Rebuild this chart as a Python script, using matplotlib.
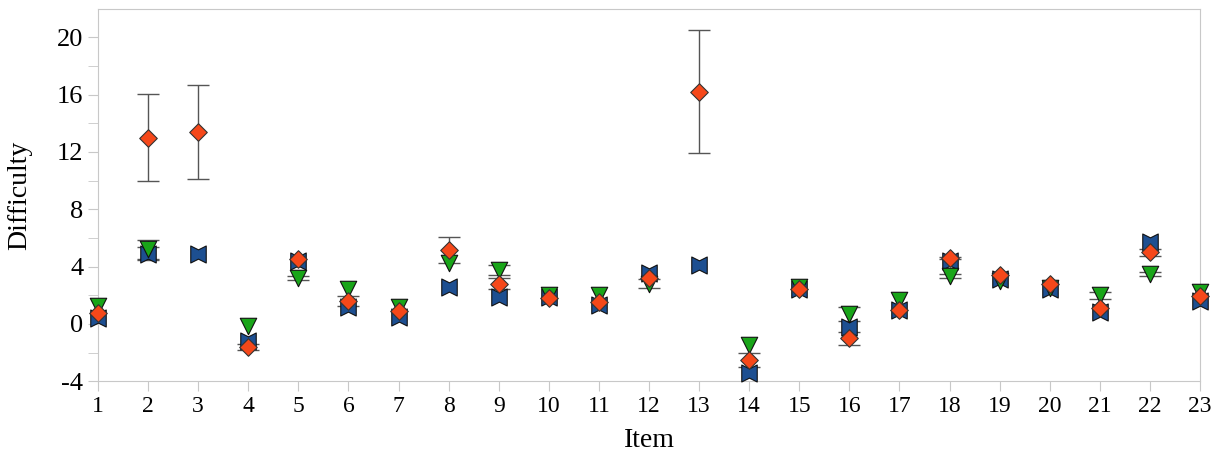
import numpy as np
import matplotlib
matplotlib.use('Agg')
import matplotlib.pyplot as plt
from matplotlib.path import Path

plt.rcParams['font.family'] = ['Liberation Serif', 'DejaVu Serif']
plt.rcParams['axes.unicode_minus'] = False

# item numbers and difficulty estimates for the three groups
items = list(range(1, 24))
blue_vals = [0.4, 4.9, 4.9, -1.2, 4.4, 1.2, 0.5, 2.6, 1.9, 1.9, 1.3, 3.55,
             4.1, -3.4, 2.45, -0.2, 1.0, 4.4, 3.1, 2.45, 0.8, 5.7, 1.6]
red_vals = [0.75, 13.0, 13.4, -1.6, 4.5, 1.6, 0.9, 5.15, 2.8, 1.8, 1.5, 3.2,
            16.2, -2.5, 2.45, -1.0, 1.0, 4.6, 3.4, 2.8, 1.1, 5.0, 1.95]
green_vals = [1.25, 5.2, None, -0.15, 3.2, 2.45, 1.2, 4.25, 3.75, 2.0, 2.0, 2.8,
              None, -1.5, 2.6, 0.7, 1.65, 3.35, 3.0, 2.5, 2.0, 3.5, 2.2]
red_err = [0, 3.05, 3.3, 0.2, 0, 0.35, 0, 0.9, 0.4, 0, 0, 0,
           4.3, 0.5, 0, 0.45, 0, 0.1, 0, 0, 0, 0.25, 0]
green_err = [0, 0.65, 0, 0, 0.15, 0, 0, 0, 0.35, 0, 0, 0.3,
             0, 0, 0, 0.5, 0, 0.15, 0, 0, 0.25, 0.15, 0]
blue_err = [0, 0.45, 0, 0, 0, 0, 0, 0, 0, 0, 0, 0,
            0, 0, 0, 0, 0, 0, 0, 0, 0, 0, 0]

# bowtie marker: square with shallow notches cut in top and bottom
bowtie = Path([(-1, -1.1), (0, -0.6), (1, -1.1), (1, 1.1), (0, 0.6), (-1, 1.1), (-1, -1.1)],
              [Path.MOVETO] + [Path.LINETO] * 5 + [Path.CLOSEPOLY])

fig = plt.figure(figsize=(12.19, 4.62), dpi=100)
ax = fig.add_axes([0.0804, 0.175, 0.904, 0.806])

ekw = dict(fmt='none', ecolor='#555555', elinewidth=1.0, capsize=8, capthick=1.0,
           clip_on=False, zorder=2)
for vals, errs in [(blue_vals, blue_err), (green_vals, green_err), (red_vals, red_err)]:
    pts = [(i, v, e) for i, v, e in zip(items, vals, errs) if v is not None and e > 0]
    ex, ey, ee = zip(*pts)
    ax.errorbar(ex, ey, yerr=ee, **ekw)

x = np.array(items, dtype=float)
gx = [i for i, g in zip(items, green_vals) if g is not None]
gy = [g for g in green_vals if g is not None]

ax.scatter(x, blue_vals, marker=bowtie, s=150, c='#1d4f91', edgecolors='#111111',
           linewidths=0.8, zorder=3, clip_on=False)
ax.scatter(gx, gy, marker='v', s=140, c='#19a519', edgecolors='#111111',
           linewidths=0.8, zorder=4, clip_on=False)
ax.scatter(x, red_vals, marker='D', s=80, c='#f5481a', edgecolors='#333333',
           linewidths=0.8, zorder=5, clip_on=False)

ax.set_xlim(1, 23)
ax.set_ylim(-4, 22)
ax.set_xticks(items)
ax.set_yticks([-4, 0, 4, 8, 12, 16, 20])
ax.set_yticks(np.arange(-2, 22, 4), minor=True)
for s in ax.spines.values():
    s.set_color('#c8c8c8')
ax.tick_params(axis='both', which='both', color='#c8c8c8', length=7, direction='out')
ax.tick_params(axis='y', labelsize=19)
ax.tick_params(axis='x', labelsize=17)
ax.set_xlabel('Item', fontsize=20, labelpad=8)
ax.set_ylabel('Difficulty', fontsize=20, labelpad=18)

fig.savefig('out.png', dpi=100)
